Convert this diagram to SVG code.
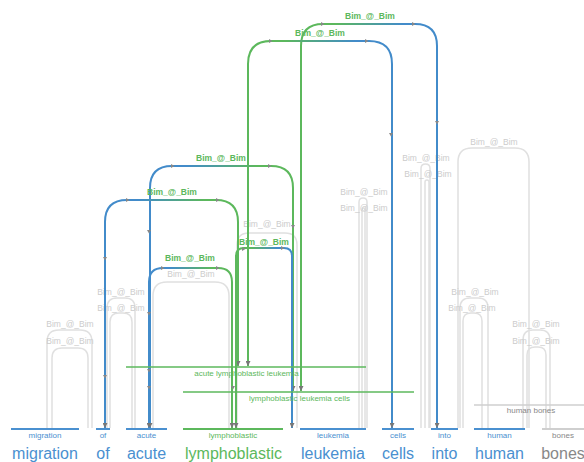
<svg xmlns="http://www.w3.org/2000/svg" width="584" height="462" viewBox="0 0 584 462">
<style>
.word{font-family:"Liberation Sans",Arial,sans-serif;font-size:16px;text-anchor:middle}
.tl{font-family:"Liberation Sans",Arial,sans-serif;font-size:8px;text-anchor:middle}
.blue{fill:#4a90d0}
.green{fill:#5cb85c}
.gray{fill:#888}
.ul{stroke-width:2;fill:none}
.ubl{stroke:#4a90d0}
.ugr{stroke:#5cb85c}
.ugy{stroke:#cfcfcf}
.span{stroke-width:1.6;fill:none}
.ga{fill:none;stroke:#e0e0e0;stroke-width:1.5}
.gl{font-family:"Liberation Sans",Arial,sans-serif;font-size:8.5px;fill:#cccccc;text-anchor:middle}
.ca{fill:none;stroke-width:2;marker-start:url(#ah);marker-end:url(#ah)}
.cl{font-family:"Liberation Sans",Arial,sans-serif;font-size:8.5px;font-weight:bold;fill:#5cb85c;text-anchor:middle}
.mk{fill:#888}
</style>
<defs>
<marker id="ah" viewBox="0 0 6 6" refX="6" refY="3" markerWidth="5" markerHeight="5" markerUnits="userSpaceOnUse" orient="auto-start-reverse">
<path d="M0,0 L6,3 L0,6 z" fill="#777"/>
</marker>
<polygon id="tri" points="-2,-2 2,-2 0,1.5"/>
<polygon id="trh" points="-2,-2 1.5,0 -2,2"/>
<linearGradient id="gA" gradientUnits="userSpaceOnUse" x1="301" y1="0" x2="437" y2="0"><stop offset="0.25" stop-color="#5cb85c"/><stop offset="0.75" stop-color="#428bca"/></linearGradient>
<linearGradient id="gB" gradientUnits="userSpaceOnUse" x1="248" y1="0" x2="392" y2="0"><stop offset="0.25" stop-color="#5cb85c"/><stop offset="0.75" stop-color="#428bca"/></linearGradient>
<linearGradient id="gC" gradientUnits="userSpaceOnUse" x1="150" y1="0" x2="293" y2="0"><stop offset="0.25" stop-color="#428bca"/><stop offset="0.75" stop-color="#5cb85c"/></linearGradient>
<linearGradient id="gD" gradientUnits="userSpaceOnUse" x1="105" y1="0" x2="238" y2="0"><stop offset="0.25" stop-color="#428bca"/><stop offset="0.75" stop-color="#5cb85c"/></linearGradient>
<linearGradient id="gE" gradientUnits="userSpaceOnUse" x1="149" y1="0" x2="232" y2="0"><stop offset="0.25" stop-color="#428bca"/><stop offset="0.75" stop-color="#5cb85c"/></linearGradient>
<linearGradient id="gF" gradientUnits="userSpaceOnUse" x1="236" y1="0" x2="292" y2="0"><stop offset="0.25" stop-color="#5cb85c"/><stop offset="0.75" stop-color="#428bca"/></linearGradient>
</defs>
<rect width="584" height="462" fill="#fff"/>

<g id="connectors">
<path class="ga" d="M47,428 V342 Q47,330 59,330 H80 Q92,330 92,342 V428"/>
<path class="ga" d="M52,428 V358 Q52,348 62,348 H78 Q88,348 88,358 V428"/>
<path class="ga" d="M107,428 V308 Q107,298 117,298 H125 Q135,298 135,308 V428"/>
<path class="ga" d="M110,428 V322 Q110,313 119,313 H123 Q132,313 132,322 V428"/>
<path class="ga" d="M153,428 V296 Q153,282 167,282 H215 Q229,282 229,296 V428"/>
<path class="ga" d="M237,428 V245 Q237,233 249,233 H285 Q297,233 297,245 V428"/>
<path class="ga" d="M359,428 V202 Q359,198 363,198 Q367,198 367,202 V428"/>
<path class="ga" d="M362,428 V210 Q362,208 363.5,208 Q365,208 365,210 V428"/>
<path class="ga" d="M421,428 V168.5 Q421,164 425.5,164 Q430,164 430,168.5 V428"/>
<path class="ga" d="M425,428 V182 Q425,180 427,180 Q429,180 429,182 V428"/>
<path class="ga" d="M458,428 V162 Q458,148 472,148 H515 Q529,148 529,162 V428"/>
<path class="ga" d="M460,428 V308 Q460,298 470,298 H478 Q488,298 488,308 V428"/>
<path class="ga" d="M463,428 V321 Q463,313 471,313 H474 Q482,313 482,321 V428"/>
<path class="ga" d="M523,428 V340 Q523,330 533,330 H540 Q550,330 550,340 V428"/>
<path class="ga" d="M527,428 V355 Q527,347 535,347 H538 Q546,347 546,355 V428"/>
<text class="gl" x="70" y="327">Bim_@_Bim</text>
<text class="gl" x="70" y="344">Bim_@_Bim</text>
<text class="gl" x="121" y="295">Bim_@_Bim</text>
<text class="gl" x="121" y="311">Bim_@_Bim</text>
<text class="gl" x="191" y="277">Bim_@_Bim</text>
<text class="gl" x="267" y="227">Bim_@_Bim</text>
<text class="gl" x="364" y="195">Bim_@_Bim</text>
<text class="gl" x="364" y="211">Bim_@_Bim</text>
<text class="gl" x="426" y="161">Bim_@_Bim</text>
<text class="gl" x="428" y="177">Bim_@_Bim</text>
<text class="gl" x="494" y="145">Bim_@_Bim</text>
<text class="gl" x="475" y="295">Bim_@_Bim</text>
<text class="gl" x="472" y="311">Bim_@_Bim</text>
<text class="gl" x="536" y="327">Bim_@_Bim</text>
<text class="gl" x="536" y="344">Bim_@_Bim</text>

<path class="ca" stroke="url(#gA)" d="M301,391 V46 Q301,24 323,24 H415 Q437,24 437,46 V428"/>
<path class="ca" stroke="url(#gB)" d="M248,366 V64 Q248,41 271,41 H369 Q392,41 392,64 V428"/>
<path class="ca" stroke="url(#gC)" d="M150,428 V188 Q150,166 172,166 H271 Q293,166 293,188 V391"/>
<path class="ca" stroke="url(#gD)" d="M105,428 V222 Q105,200 127,200 H216 Q238,200 238,222 V366"/>
<path class="ca" stroke="url(#gE)" d="M149,428 V282 Q149,268 163,268 H218 Q232,268 232,282 V428"/>
<path class="ca" stroke="url(#gF)" d="M236,428 V256 Q236,248 244,248 H284 Q292,248 292,256 V428"/>
<text class="cl" x="370" y="19">Bim_@_Bim</text>
<text class="cl" x="320" y="36">Bim_@_Bim</text>
<text class="cl" x="221" y="161">Bim_@_Bim</text>
<text class="cl" x="172" y="195">Bim_@_Bim</text>
<text class="cl" x="264" y="245">Bim_@_Bim</text>
<text class="cl" x="190" y="261">Bim_@_Bim</text>
<g class="mk">
<use href="#trh" x="323" y="24"/><use href="#trh" x="414" y="24"/>
<use href="#trh" x="271" y="41"/><use href="#trh" x="367" y="41"/>
<use href="#trh" x="173" y="166"/><use href="#trh" x="270" y="166"/>
<use href="#trh" x="128" y="200"/><use href="#trh" x="218" y="200"/>
<use href="#trh" x="163" y="268"/><use href="#trh" x="218" y="268"/>
<use href="#trh" x="244" y="249"/><use href="#trh" x="283" y="248"/>
<use href="#tri" x="105" y="259"/><use href="#tri" x="105" y="377"/>
<use href="#tri" x="149" y="232"/><use href="#tri" x="149" y="314"/>
<use href="#tri" x="149" y="371"/><use href="#tri" x="149" y="388"/>
<use href="#tri" x="233" y="388"/><use href="#tri" x="293" y="227"/>
<use href="#tri" x="391" y="135"/><use href="#tri" x="437" y="123"/>
</g>
</g>

<g id="span-all">
<line class="span ugr" x1="126" y1="367" x2="366" y2="367"/>
<text class="tl green" x="246.5" y="376">acute lymphoblastic leukemia</text>
</g>
<g id="span-llc">
<line class="span ugr" x1="183" y1="392" x2="414" y2="392"/>
<text class="tl green" x="299.5" y="401">lymphoblastic leukemia cells</text>
</g>
<g id="span-hb">
<line class="span ugy" x1="474" y1="405" x2="584" y2="405"/>
<text class="tl gray" x="531" y="413">human bones</text>
</g>

<g id="tok-migration"><line class="ul ubl" x1="11" y1="429" x2="79" y2="429"/><text class="tl blue" x="45" y="438">migration</text><text class="word blue" x="45" y="458.5">migration</text></g>
<g id="tok-of"><line class="ul ubl" x1="96" y1="429" x2="110" y2="429"/><text class="tl blue" x="103" y="438">of</text><text class="word blue" x="103" y="458.5">of</text></g>
<g id="tok-acute"><line class="ul ubl" x1="126" y1="429" x2="167" y2="429"/><text class="tl blue" x="146.5" y="438">acute</text><text class="word blue" x="146.5" y="458.5">acute</text></g>
<g id="tok-lymphoblastic"><line class="ul ugr" x1="183" y1="429" x2="283" y2="429"/><text class="tl green" x="233" y="438">lymphoblastic</text><text class="word green" x="233.5" y="458.5">lymphoblastic</text></g>
<g id="tok-leukemia"><line class="ul ubl" x1="300" y1="429" x2="366" y2="429"/><text class="tl blue" x="333" y="438">leukemia</text><text class="word blue" x="333" y="458.5">leukemia</text></g>
<g id="tok-cells"><line class="ul ubl" x1="382" y1="429" x2="414" y2="429"/><text class="tl blue" x="398" y="438">cells</text><text class="word blue" x="398" y="458.5">cells</text></g>
<g id="tok-into"><line class="ul ubl" x1="431" y1="429" x2="458" y2="429"/><text class="tl blue" x="444.5" y="438">into</text><text class="word blue" x="444.5" y="458.5">into</text></g>
<g id="tok-human"><line class="ul ubl" x1="474" y1="429" x2="525" y2="429"/><text class="tl blue" x="499.5" y="438">human</text><text class="word blue" x="499.5" y="458.5">human</text></g>
<g id="tok-bones"><line class="ul ugy" x1="542" y1="429" x2="584" y2="429"/><text class="tl gray" x="563" y="438">bones</text><text class="word gray" x="563" y="458.5">bones</text></g>
</svg>
